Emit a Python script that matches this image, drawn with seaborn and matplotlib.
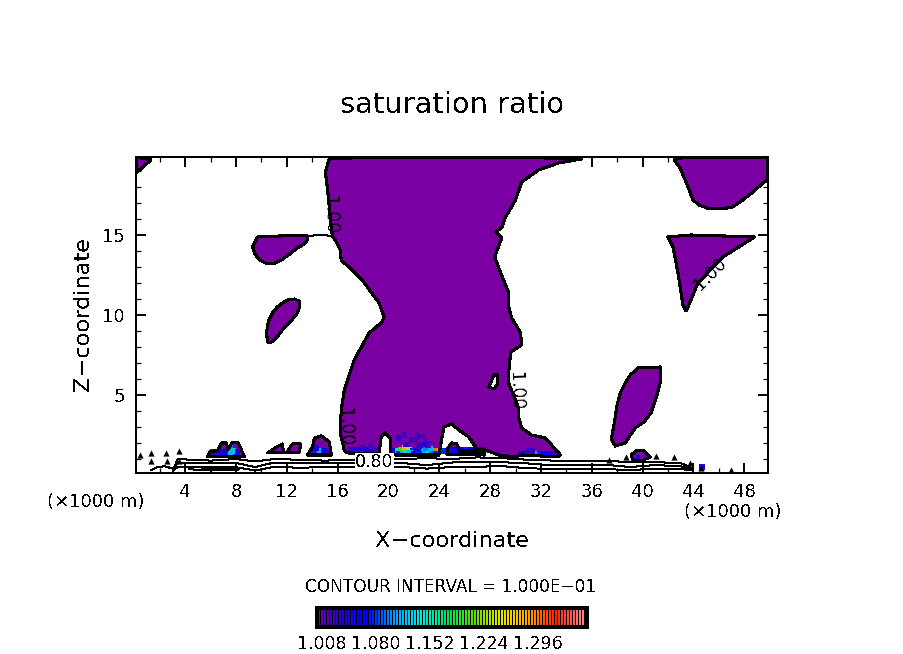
import numpy as np
import pandas as pd
import seaborn as sns
import matplotlib
matplotlib.use("Agg")
import matplotlib.pyplot as plt
from matplotlib.colors import LinearSegmentedColormap

# contour outlines of the saturation ratio = 1.00 level (x in km, z in km)
plume_x = [15.34, 15.03, 15.18, 15.34, 15.5, 15.58, 15.89, 16.2, 16.28, 17.93, 19.26, 19.65, 19.5, 18.48, 17.3, 16.52,
           16.28, 16.2, 16.52, 16.75, 19.1, 19.26, 19.42, 19.73, 20.13, 20.2, 20.6, 23.97, 24.13, 24.36, 24.99, 25.54,
           26.32, 26.95, 27.65, 28.67, 30.0, 30.48, 33.38, 33.54, 32.83, 32.36, 31.26, 30.48, 30.24, 30.24, 29.46,
           29.46, 29.62, 30.48, 30.4, 29.7, 29.46, 29.46, 28.83, 28.36, 28.91, 28.44, 28.91, 29.22, 30.0, 30.48,
           31.81, 33.38, 35.18, 33.38, 18.7, 15.34]
plume_z = [19.75, 18.94, 18.0, 16.75, 15.5, 14.94, 14.56, 14.06, 13.44, 12.19, 10.75, 9.88, 9.56, 8.88, 7.19, 5.31,
           4.06, 2.63, 1.56, 1.38, 1.31, 1.38, 2.38, 2.63, 2.31, 1.31, 1.25, 1.25, 2.0, 3.0, 3.19, 2.81,
           2.38, 1.63, 1.56, 1.25, 1.13, 1.25, 1.13, 1.25, 1.88, 2.31, 2.5, 2.94, 3.63, 4.19, 5.75,
           6.38, 7.69, 8.13, 8.88, 9.81, 10.5, 11.38, 12.63, 13.63, 14.81, 15.19, 15.44, 16.13, 17.19, 18.31,
           19.06, 19.5, 19.75, 19.81, 19.875, 19.75]
left_lobe_x = [9.69, 9.3, 9.5, 9.85, 10.48, 11.0, 11.58, 12.2, 12.83, 13.3, 13.62, 13.62, 11.5, 9.69]
left_lobe_z = [14.88, 14.25, 13.8, 13.44, 13.19, 13.22, 13.44, 13.8, 14.19, 14.4, 14.69, 14.94, 14.94, 14.88]
mini_lobe_x = [10.48, 10.4, 10.55, 10.87, 11.25, 11.65, 12.1, 12.6, 13.0, 13.0, 12.83, 12.3, 11.65, 11.2, 10.79, 10.48]
mini_lobe_z = [8.31, 8.94, 9.6, 10.13, 10.5, 10.75, 10.95, 11.0, 10.85, 10.5, 10.13, 9.6, 9.06, 8.6, 8.31, 8.31]
corner_x = [0.125, 1.3, 0.125, 0.125]
corner_z = [19.875, 19.69, 18.875, 19.875]
top_right_x = [42.48, 43.34, 49.875, 49.8, 49.2, 48.7, 47.9, 47.1, 46.2, 45.3, 44.5, 43.97, 43.7, 43.42, 42.95, 42.48]
top_right_z = [19.69, 19.875, 19.875, 18.44, 18.05, 17.69, 17.2, 16.75, 16.63, 16.63, 16.85, 17.19, 17.75, 18.31, 19.19,
               19.69]
wedge_x = [42.0, 43.8, 48.83, 46.32, 44.36, 43.58, 43.42, 43.18, 42.79, 42.4, 42.0]
wedge_z = [14.88, 15.0, 14.88, 13.63, 12.0, 10.5, 10.25, 10.63, 12.63, 14.25, 14.88]
right_lobe_x = [41.38, 40.5, 39.65, 39.03, 38.6, 38.25, 38.0, 37.85, 37.7, 37.54, 37.85, 38.64, 39.0, 39.42, 40.1, 40.67,
                41.1, 41.38, 41.38]
right_lobe_z = [6.75, 6.72, 6.69, 6.25, 5.7, 5.13, 4.4, 3.63, 2.9, 2.25, 1.81, 2.0, 2.45, 2.94, 3.3, 3.88, 4.9, 5.75,
                6.75]
blob_a_x = [5.77, 5.93, 6.56, 6.87, 7.26, 7.34, 7.73, 8.13, 8.67, 5.77]
blob_a_z = [1.13, 1.44, 1.56, 2.0, 2.0, 1.56, 2.06, 2.06, 1.13, 1.13]
blob_c_x = [10.48, 11.18, 11.65, 11.73, 10.48]
blob_c_z = [1.38, 1.75, 1.94, 1.38, 1.38]
blob_d_x = [11.97, 12.44, 13.07, 13.0, 11.97]
blob_d_z = [1.38, 1.94, 1.94, 1.44, 1.38]
blob_e_x = [13.62, 14.0, 14.17, 14.71, 15.34, 15.5, 13.62]
blob_e_z = [1.25, 1.69, 2.31, 2.44, 2.06, 1.25, 1.25]
blob_f_x = [39.1, 39.5, 40.05, 40.6, 39.9, 39.26, 39.1]
blob_f_z = [1.25, 1.5, 1.56, 1.13, 0.875, 0.875, 1.25]
dome_x = [24.6, 24.67, 25.0, 25.38, 25.6, 27.58, 27.58, 24.6]
dome_z = [1.31, 1.69, 2.0, 1.94, 1.5, 1.5, 1.25, 1.31]
hole_x = [27.9, 28.3, 28.6, 28.6, 28.3, 27.9]
hole_z = [5.5, 6.25, 6.25, 5.69, 5.38, 5.5]
bridge_x = [13.62, 14.7, 15.58]
bridge_z = [14.94, 15.0, 14.94]

# tiny closed contours near the ground
speck_x = [0.45, 1.3, 2.48, 3.5, 37.38, 38.7, 41.07, 42.48, 43.74, 44.6, 46.95, 1.3, 2.55, 3.5]
speck_z = [1.25, 1.38, 1.38, 1.5, 0.94, 1.13, 1.19, 1.13, 0.75, 0.44, 0.31, 0.85, 0.9, 0.9]

# ground level contours (0.80 and below)
ground_x = [3.1, 3.4, 4.5, 6, 8, 9.5, 11, 13, 15, 17, 19, 21, 23, 25, 27, 29, 31, 33, 35, 37, 39, 41, 43, 44]
ground_z1 = [0.4, 1.0, 0.95, 0.9, 1.0, 0.85, 1.0, 0.95, 0.9, 0.95, 1.05, 1.0, 1.05, 1.0, 1.1, 1.05, 0.95, 0.9, 0.85,
             0.9, 0.8, 0.8, 0.75, 0.4]
ground_z2 = [0.35, 0.78, 0.78, 0.72, 0.75, 0.5, 0.78, 0.72, 0.72, 0.75, 0.82, 0.75, 0.62, 0.78, 0.82, 0.8, 0.72, 0.6,
             0.62, 0.65, 0.5, 0.62, 0.55, 0.35]
ground_z3 = [0.3, 0.5, 0.52, 0.5, 0.48, 0.28, 0.52, 0.45, 0.5, 0.5, 0.55, 0.5, 0.4, 0.5, 0.52, 0.55, 0.42, 0.38,
             0.4, 0.38, 0.3, 0.4, 0.36, 0.3]
loop_a_x = [1.3, 1.8, 2.4, 3.0, 3.0]
loop_a_z = [0.3, 0.5, 0.55, 0.4, 0.25]
loop_b_x = [4.3, 6.0, 8.0, 8.2, 6.0, 4.3, 4.3]
loop_b_z = [0.48, 0.46, 0.42, 0.33, 0.28, 0.36, 0.48]

# shaded cells above the 1.00 level
hot_x = [6.2, 6.5, 6.8, 7.1, 7.4, 7.55, 7.8, 8.1, 7.55, 14.0, 14.3, 14.6, 14.9, 15.2, 14.3,
         17.0, 17.3, 17.6, 17.9, 18.2, 18.5, 18.8, 19.0, 18.6, 20.4, 20.7, 21.0, 21.3, 21.6, 21.9, 22.2, 22.5, 22.8,
         23.1, 23.4, 23.7, 24.0, 24.3, 20.8, 21.1, 21.4, 21.7, 22.0, 22.4, 22.8, 23.1, 23.4, 23.7, 22.9, 23.1, 23.3,
         25.0, 25.3, 25.6, 25.9, 26.2, 26.5, 26.8, 27.1, 27.4, 30.4, 30.7, 31.0, 31.3, 31.6, 31.9, 32.2, 32.5, 32.8, 33.1,
         31.3, 31.0, 39.6, 44.7, 20.8, 21.2, 21.8, 22.2, 22.5, 22.9, 23.1, 21.4, 22.4, 22.8, 22.1, 22.7]
hot_z = [1.45, 1.45, 1.45, 1.45, 1.5, 1.7, 1.5, 1.45, 1.45, 1.5, 1.5, 1.5, 1.5, 1.5, 1.7,
         1.55, 1.55, 1.6, 1.7, 1.6, 1.55, 1.6, 1.55, 1.8, 1.5, 1.5, 1.6, 1.7, 1.6, 1.5, 1.5, 1.6, 1.5,
         1.4, 1.5, 1.5, 1.5, 1.5, 1.3, 1.3, 1.4, 1.4, 1.35, 1.3, 1.2, 1.25, 1.35, 1.35, 1.7, 1.9, 1.65,
         1.55, 1.55, 1.55, 1.55, 1.55, 1.55, 1.55, 1.55, 1.55, 1.3, 1.3, 1.35, 1.35, 1.35, 1.35, 1.3, 1.3, 1.3, 1.3,
         1.5, 1.5, 1.1, 0.5, 2.3, 2.5, 2.2, 2.6, 2.4, 2.1, 1.85, 1.9, 1.8, 1.9, 2.2, 2.4]
hot_val = [1.03, 1.04, 1.05, 1.06, 1.08, 1.10, 1.13, 1.05, 1.12, 1.04, 1.08, 1.12, 1.06, 1.03, 1.05,
           1.03, 1.04, 1.05, 1.04, 1.05, 1.06, 1.04, 1.03, 1.02, 1.06, 1.14, 1.20, 1.28, 1.24, 1.08, 1.04, 1.06, 1.12,
           1.2, 1.26, 1.30, 1.22, 1.08, 1.08, 1.12, 1.14, 1.12, 1.07, 1.08, 1.12, 1.16, 1.10, 1.08, 1.10, 1.06, 1.12,
           1.05, 1.06, 1.07, 1.07, 1.08, 1.07, 1.06, 1.05, 1.04, 1.04, 1.05, 1.07, 1.09, 1.11, 1.08, 1.06, 1.06, 1.05, 1.04,
           1.03, 1.03, 1.04, 1.04, 1.03, 1.02, 1.03, 1.015, 1.03, 1.02, 1.015, 1.03, 1.03, 1.04, 1.02, 1.02]

x_ticks = [4, 8, 12, 16, 20, 24, 28, 32, 36, 40, 44, 48]
x_minor = [2, 6, 10, 14, 18, 22, 26, 30, 34, 38, 42, 46]
z_ticks = [5, 10, 15]
z_minor = [1, 2, 3, 4, 6, 7, 8, 9, 11, 12, 13, 14, 16, 17, 18, 19]
cbar_first = 1.008
cbar_step = 0.004
cbar_boxes = 90
cbar_labels = ["1.008", "1.080", "1.152", "1.224", "1.296"]

sns.set_style("white")
plt.rcParams["font.family"] = ["DejaVu Sans"]
plt.rcParams["text.antialiased"] = False
plt.rcParams["lines.antialiased"] = False
plt.rcParams["patch.antialiased"] = False
plt.rcParams["lines.solid_joinstyle"] = "round"
plt.rcParams["text.color"] = "k"
plt.rcParams["xtick.color"] = "k"
plt.rcParams["ytick.color"] = "k"

purple = "#7b00a3"
cmap = LinearSegmentedColormap.from_list(
    "ncar", ["#7b00a3", "#2a00c8", "#0000ff", "#00a0ff", "#00e8e0", "#00e060", "#60e000", "#e8e800", "#ffa000",
             "#ff2000", "#ff8080"])

fig = plt.figure(figsize=(9.04, 6.54), dpi=100)
ax = fig.add_axes([136 / 904, 1 - 473 / 654, 632 / 904, 316 / 654])

filled = [(plume_x, plume_z), (left_lobe_x, left_lobe_z), (mini_lobe_x, mini_lobe_z), (corner_x, corner_z),
          (top_right_x, top_right_z), (wedge_x, wedge_z), (right_lobe_x, right_lobe_z), (blob_a_x, blob_a_z),
          (blob_c_x, blob_c_z), (blob_d_x, blob_d_z), (blob_e_x, blob_e_z), (blob_f_x, blob_f_z), (dome_x, dome_z)]
for xs, zs in filled:
    ax.fill(xs, zs, color=purple, lw=0, zorder=1)
    sns.lineplot(x=xs, y=zs, sort=False, estimator=None, color="k", lw=1.5, ax=ax, zorder=3)
ax.fill(hole_x, hole_z, color="white", lw=0, zorder=2)
sns.lineplot(x=hole_x, y=hole_z, sort=False, estimator=None, color="k", lw=1.5, ax=ax, zorder=3)
sns.lineplot(x=bridge_x, y=bridge_z, sort=False, estimator=None, color="k", lw=0.72, ax=ax, zorder=3)

hot = pd.DataFrame({"x": hot_x, "z": hot_z, "val": hot_val})
sns.scatterplot(data=hot, x="x", y="z", hue="val", palette=cmap, hue_norm=(1.0, 1.36), marker="s", s=16, linewidth=0,
                legend=False, ax=ax, zorder=2)
sns.scatterplot(x=speck_x, y=speck_z, color="k", marker="^", s=20, linewidth=0, ax=ax, zorder=3)

for zs in (ground_z1, ground_z2, ground_z3):
    sns.lineplot(x=ground_x, y=zs, sort=False, estimator=None, color="k", lw=0.72, ax=ax, zorder=3)
for xs, zs in ((loop_a_x, loop_a_z), (loop_b_x, loop_b_z)):
    sns.lineplot(x=xs, y=zs, sort=False, estimator=None, color="k", lw=0.72, ax=ax, zorder=3)

# contour labels
for tx, tz, label, rot in [(16.6, 3.0, "1.00", -88), (15.35, 16.25, "1.00", -88), (30.0, 5.25, "1.00", -88),
                           (45.3, 12.6, "1.00", 45)]:
    ax.text(tx, tz, label, fontsize=12.5, rotation=rot, ha="center", va="center", zorder=4, rotation_mode="anchor")
ax.text(18.9, 0.8, "0.80", fontsize=12.5, ha="center", va="center", zorder=4,
        bbox=dict(facecolor="white", edgecolor="none", pad=0.2))

ax.set_xlim(0.125, 49.875)
ax.set_ylim(0.125, 19.875)
ax.set_xticks(x_ticks)
ax.set_xticks(x_minor, minor=True)
ax.set_yticks(z_ticks)
ax.set_yticks(z_minor, minor=True)
ax.tick_params(axis="both", which="major", direction="in", length=7, width=1.4, top=True, right=True,
               labelsize=13, pad=7, bottom=True, left=True, color="k")
ax.tick_params(axis="both", which="minor", direction="in", length=3.6, width=0.9, top=True, right=True,
               bottom=True, left=True, color="k")
ax.tick_params(axis="y", which="major", pad=8)
ax.set_xlabel("")
ax.set_ylabel("")
for s in ax.spines.values():
    s.set_visible(True)
    s.set_linewidth(1.3)
    s.set_color("k")
    s.set_zorder(6)

fig.text(452 / 904, 1 - 105 / 654, "saturation ratio", fontsize=20.8, ha="center", va="center")
fig.text(452 / 904, 1 - 541 / 654, "X\u2212coordinate", fontsize=16.2, ha="center", va="center")
fig.text(83 / 904, 1 - 314 / 654, "Z\u2212coordinate", fontsize=16.2, rotation=90, ha="center", va="center")
fig.text(96 / 904, 1 - 502 / 654, "(\u00d71000 m)", fontsize=13, ha="center", va="center")
fig.text(733 / 904, 1 - 512 / 654, "(\u00d71000 m)", fontsize=13, ha="center", va="center")
fig.text(451 / 904, 1 - 587 / 654, "CONTOUR INTERVAL = 1.000E\u221201", fontsize=12.2, ha="center", va="center")

# colour bar: each level is a coloured stripe followed by black
cax = fig.add_axes([317 / 904, 1 - 627 / 654, 270 / 904, 19 / 654])
cax.set_facecolor("k")
levels = cbar_first + cbar_step * np.arange(cbar_boxes)
stripes = np.full((1, cbar_boxes * 3), np.nan)
stripes[0, 1::3] = levels
stripes[0, 2::3] = levels
sns.heatmap(stripes, cmap=cmap, vmin=1.0, vmax=1.36, cbar=False, ax=cax, xticklabels=False, yticklabels=False)
cax.set_xticks([5 + 54 * i for i in range(len(cbar_labels))])
cax.set_xticklabels(cbar_labels, fontsize=12.5, rotation=0)
cax.tick_params(axis="x", length=0, pad=6)
for s in cax.spines.values():
    s.set_visible(True)
    s.set_linewidth(1.5)
    s.set_color("k")

fig.savefig("out.png", dpi=100, facecolor="white")
